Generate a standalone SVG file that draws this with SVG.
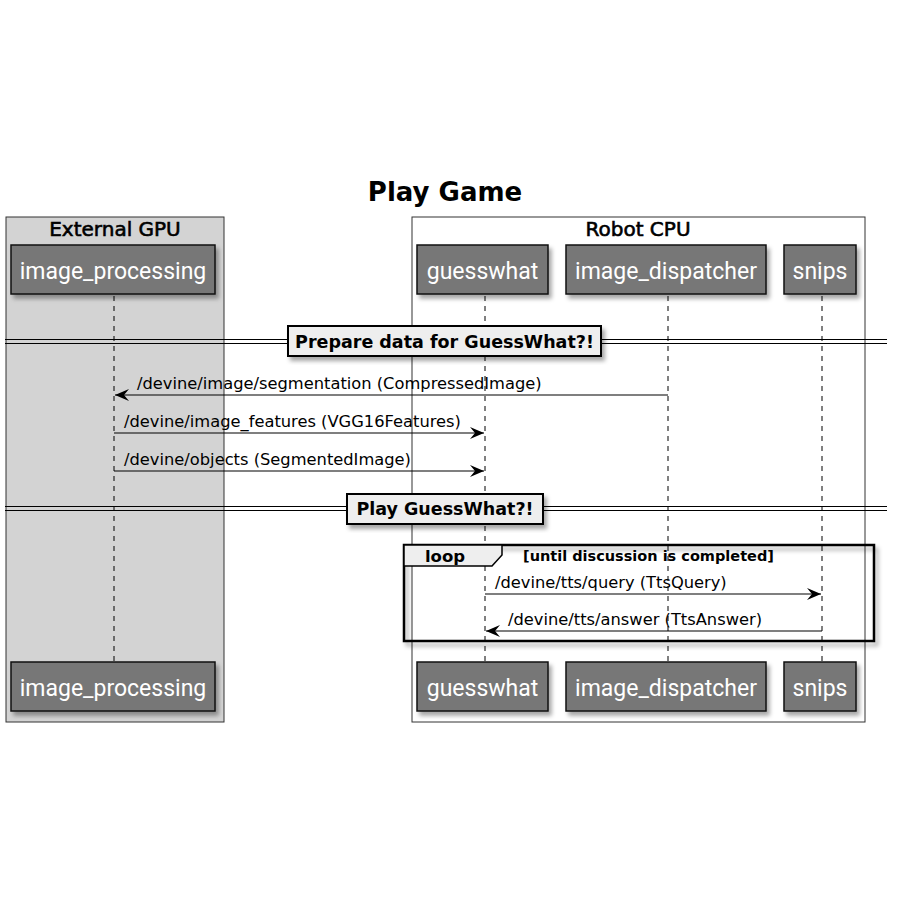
<svg xmlns="http://www.w3.org/2000/svg" width="900" height="900" viewBox="0 0 900 900">
<defs>
<filter id="sh" x="-10%" y="-10%" width="130%" height="140%">
<feDropShadow dx="3" dy="4" stdDeviation="2" flood-color="#000" flood-opacity="0.35"/>
</filter>
<marker id="ah" markerWidth="16" markerHeight="14" refX="14" refY="7" orient="auto" markerUnits="userSpaceOnUse">
<path d="M0,1 L14,7 L0,13 L5,7 Z" fill="#000"/>
</marker>
<style>
.title{font-family:"DejaVu Sans",sans-serif;font-weight:bold;font-size:26px;text-anchor:middle}
.boxt{font-family:"DejaVu Sans",sans-serif;font-size:20px;text-anchor:middle;stroke:#000;stroke-width:0.6}
.part rect{fill:#777;stroke:#111;stroke-width:1.5}
.part text{font-family:Roboto,sans-serif;font-size:23px;fill:#fff;text-anchor:middle}
.life{stroke:#000;stroke-width:1;stroke-dasharray:5,5}
.msg{font-family:"DejaVu Sans",sans-serif;font-size:16.3px}
.arr{stroke:#000;stroke-width:1.2;fill:none;marker-end:url(#ah)}
.div{stroke:#000;stroke-width:1}
.divbox{fill:#eee;stroke:#000;stroke-width:2}
.divt{font-family:"DejaVu Sans",sans-serif;font-weight:bold;font-size:17.5px;text-anchor:middle}
</style>
</defs>
<rect width="900" height="900" fill="#fff"/>
<text class="title" x="445" y="201">Play Game</text>

<g id="box-external-gpu">
<rect x="6" y="217" width="218" height="505" fill="#d3d3d3" stroke="#333" stroke-width="1"/>
<text class="boxt" x="115" y="236">External GPU</text>
</g>
<g id="box-robot-cpu">
<rect x="412" y="217" width="453" height="505" fill="#fff" stroke="#333" stroke-width="1"/>
<text class="boxt" x="638" y="236">Robot CPU</text>
</g>

<g id="lifelines">
<line class="life" x1="114" y1="296" x2="114" y2="662"/>
<line class="life" x1="485" y1="296" x2="485" y2="662"/>
<line class="life" x1="668" y1="296" x2="668" y2="662"/>
<line class="life" x1="822" y1="296" x2="822" y2="662"/>
</g>

<g id="image_processing" class="part">
<rect x="11" y="245" width="204" height="49" filter="url(#sh)"/>
<text x="113" y="279">image_processing</text>
<rect x="11" y="662" width="204" height="49" filter="url(#sh)"/>
<text x="113" y="696">image_processing</text>
</g>
<g id="guesswhat" class="part">
<rect x="417" y="245" width="131" height="49" filter="url(#sh)"/>
<text x="482.5" y="279">guesswhat</text>
<rect x="417" y="662" width="131" height="49" filter="url(#sh)"/>
<text x="482.5" y="696">guesswhat</text>
</g>
<g id="image_dispatcher" class="part">
<rect x="566" y="245" width="200" height="49" filter="url(#sh)"/>
<text x="666" y="279">image_dispatcher</text>
<rect x="566" y="662" width="200" height="49" filter="url(#sh)"/>
<text x="666" y="696">image_dispatcher</text>
</g>
<g id="snips" class="part">
<rect x="784" y="245" width="72" height="49" filter="url(#sh)"/>
<text x="820" y="279">snips</text>
<rect x="784" y="662" width="72" height="49" filter="url(#sh)"/>
<text x="820" y="696">snips</text>
</g>

<g id="divider-prepare">
<line class="div" x1="5" y1="339.5" x2="887" y2="339.5"/>
<line class="div" x1="5" y1="343.5" x2="887" y2="343.5"/>
<rect class="divbox" x="288" y="326" width="313" height="30" filter="url(#sh)"/>
<text class="divt" x="444.5" y="348">Prepare data for GuessWhat?!</text>
</g>

<g id="divider-play">
<line class="div" x1="5" y1="506.5" x2="887" y2="506.5"/>
<line class="div" x1="5" y1="510.5" x2="887" y2="510.5"/>
<rect class="divbox" x="347" y="494" width="196" height="30" filter="url(#sh)"/>
<text class="divt" x="445" y="515">Play GuessWhat?!</text>
</g>

<g id="loop">
<rect x="404" y="545" width="470" height="96" fill="none" stroke="#000" stroke-width="2.5" filter="url(#sh)"/>
<path d="M404,545 L502,545 L502,555 L492,566 L404,566 Z" fill="#eee" stroke="#000" stroke-width="1.5"/>
<text x="445" y="562" font-family="DejaVu Sans, sans-serif" font-weight="bold" font-size="16.5" text-anchor="middle">loop</text>
<text x="523" y="561" font-family="DejaVu Sans, sans-serif" font-weight="bold" font-size="14.5">[until discussion is completed]</text>
</g>

<g id="connectors">
<line class="arr" x1="668" y1="395" x2="115" y2="395"/>
<text class="msg" x="137" y="389">/devine/image/segmentation (CompressedImage)</text>
<line class="arr" x1="114" y1="433" x2="484" y2="433"/>
<text class="msg" x="124" y="427">/devine/image_features (VGG16Features)</text>
<line class="arr" x1="114" y1="471" x2="484" y2="471"/>
<text class="msg" x="124" y="465">/devine/objects (SegmentedImage)</text>
<line class="arr" x1="485" y1="594" x2="821" y2="594"/>
<text class="msg" x="495" y="588">/devine/tts/query (TtsQuery)</text>
<line class="arr" x1="822" y1="631" x2="486" y2="631"/>
<text class="msg" x="508" y="625">/devine/tts/answer (TtsAnswer)</text>
</g>
</svg>
